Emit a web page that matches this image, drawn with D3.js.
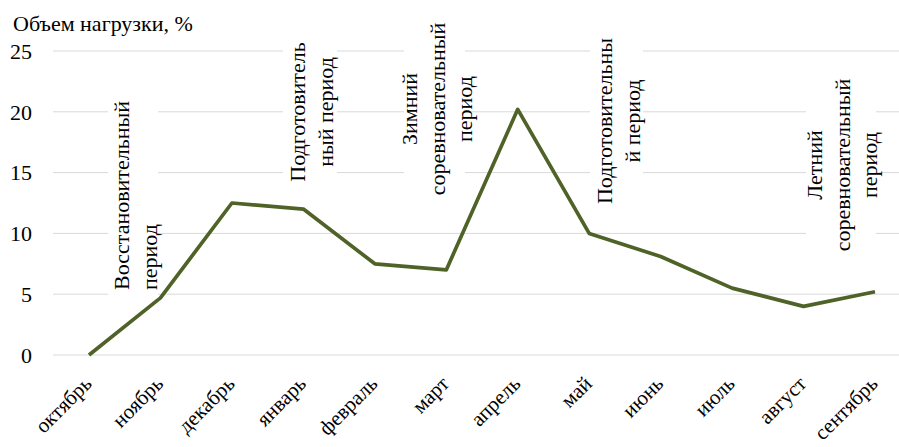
<!DOCTYPE html>
<html>
<head>
<meta charset="utf-8">
<script src="https://cdn.jsdelivr.net/npm/d3@7"></script>
<style>
  body { margin: 0; background: #fff; }
  text { font-family: 'Liberation Serif', 'DejaVu Serif', serif; }
</style>
</head>
<body>
<svg id="chart" width="899" height="447"></svg>
<script>
// months on the x axis
const months = ["октябрь", "ноябрь", "декабрь", "январь", "февраль", "март",
  "апрель", "май", "июнь", "июль", "август", "сентябрь"]
// load volume, %
const load = [0, 4.7, 12.5, 12, 7.5, 7, 20.2, 10, 8.1, 5.5, 4, 5.2]
const yTicks = [0, 5, 10, 15, 20, 25]
// period captions (one entry per text box, lines as drawn)
const periods = [
  ["Восстановительный", "период"],
  ["Подготовитель", "ный период"],
  ["Зимний", "соревновательный", "период"],
  ["Подготовительны", "й период"],
  ["Летний", "соревновательный", "период"],
]

const W = 899, H = 447
const FONT = "'Liberation Serif', 'DejaVu Serif', serif"
const FS = 22
const svg = d3.select("#chart")

const x = d3.scalePoint().domain(months).range([89, 875])
const y = d3.scaleLinear().domain([0, 25]).range([355, 51])

// gridlines
svg.append("g")
  .selectAll("line")
  .data(yTicks)
  .enter()
  .append("line")
  .attr("x1", 53).attr("x2", W)
  .attr("y1", d => y(d)).attr("y2", d => y(d))
  .attr("stroke", "#d9d9d9")
  .attr("stroke-width", 1)

// y tick labels
svg.append("g")
  .selectAll("text")
  .data(yTicks)
  .enter()
  .append("text")
  .attr("x", 32)
  .attr("y", d => y(d))
  .attr("dy", "0.35em")
  .attr("text-anchor", "end")
  .attr("font-family", FONT)
  .attr("font-size", FS)
  .attr("fill", "#000")
  .text(d => d)

// x tick labels, rotated
svg.append("g")
  .selectAll("text")
  .data(months)
  .enter()
  .append("text")
  .attr("transform", d => `translate(${x(d) + 4}, 385) rotate(-45)`)
  .attr("text-anchor", "end")
  .attr("font-family", FONT)
  .attr("font-size", 21)
  .attr("fill", "#000")
  .text(d => d)

// title
svg.append("text")
  .attr("x", 13).attr("y", 31)
  .attr("font-family", FONT)
  .attr("font-size", FS)
  .attr("fill", "#000")
  .text("Объем нагрузки, %")

// the line
const lineGen = d3.line()
  .x((d, i) => x(months[i]))
  .y(d => y(d))

svg.append("path")
  .datum(load)
  .attr("d", lineGen)
  .attr("fill", "none")
  .attr("stroke", "#4f6228")
  .attr("stroke-width", 3.7)
  .attr("stroke-linejoin", "round")

// text boxes: centre x of first line, vertical centre, alignment, box
const boxLayout = [
  { cx: 122, cy: 195, align: "bottom", bottom: 290, box: [108, 92, 50, 206] },
  { cx: 298, cy: 112, align: "middle", box: [283, 36, 54, 152] },
  { cx: 410, cy: 109, align: "middle", box: [404, 16, 61, 190] },
  { cx: 605, cy: 121, align: "middle", box: [590, 32, 53, 180] },
  { cx: 815, cy: 165, align: "middle", box: [806, 70, 70, 190] },
]
const lineStep = 27.5

const notes = svg.append("g")
periods.forEach((lines, k) => {
  const L = boxLayout[k]
  const g = notes.append("g")
  g.append("rect")
    .attr("x", L.box[0]).attr("y", L.box[1])
    .attr("width", L.box[2]).attr("height", L.box[3])
    .attr("fill", "#fff")
  lines.forEach((t, j) => {
    const cx = L.cx + j * lineStep
    const anchorY = L.align === "bottom" ? L.bottom : L.cy
    g.append("text")
      .attr("transform", `translate(${cx + 7}, ${anchorY}) rotate(-90)`)
      .attr("text-anchor", L.align === "bottom" ? "start" : "middle")
      .attr("font-family", FONT)
      .attr("font-size", FS)
      .attr("fill", "#000")
      .text(t)
  })
})
</script>
</body>
</html>
